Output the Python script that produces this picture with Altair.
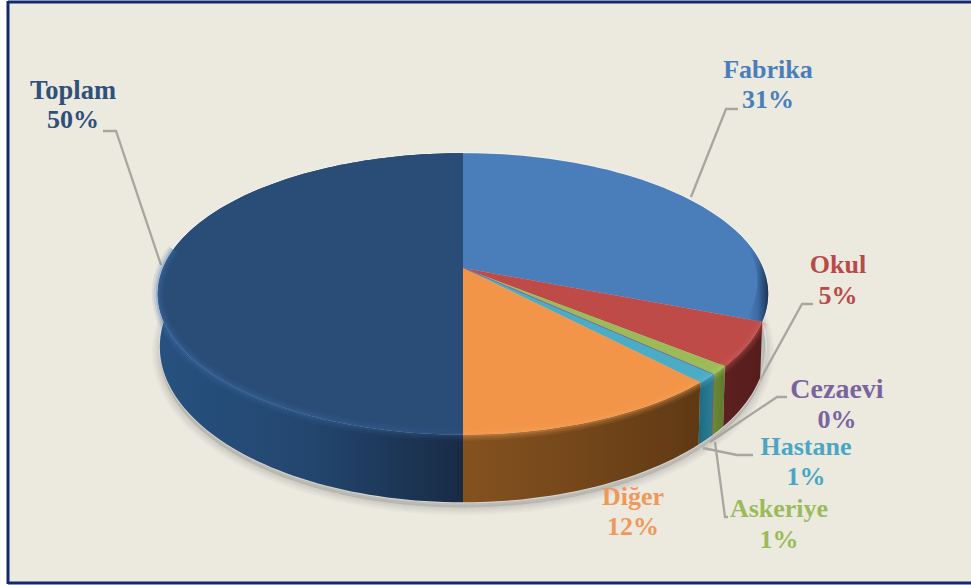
import math
import altair as alt
import pandas as pd

# Share of each category, clockwise from twelve o'clock
categories = ["Fabrika", "Okul", "Askeriye", "Cezaevi", "Hastane", "Diğer", "Toplam"]
shares = [31, 5, 1, 0, 1, 12, 50]

top_colors = ["#4A7EBB", "#BE4B48", "#9BBB59", "#8064A2", "#4BACC6", "#F39548", "#2A4D78"]
rim_colors = ["#5E92CF", "#CF5F5B", "#AECB6C", "#8064A2", "#5FBCD6", "#F8A35C", "#3F6EA8"]
wall_stops = [
    None,
    ["#5E2020", "#561C1C"],
    ["#6E8A36", "#5F7A2E"],
    ["#6C5490", "#6C5490"],
    ["#1F6A80", "#2B8098"],
    ["#84521F", "#74461A", "#5F3914"],
    ["#27517F", "#23466F", "#182B45"],
]
text_colors = ["#4A7EBB", "#B94A48", "#9BBB59", "#7A64A0", "#4BA6C4", "#F0985A", "#2F5078"]

# Label placement and the elbowed leader running to each slice
label_xy = {
    "Fabrika": (768, 70, 100), "Okul": (838, 265, 296), "Askeriye": (779, 509, 540),
    "Cezaevi": (837, 390, 420), "Hastane": (806, 447, 477), "Diğer": (633, 497, 527),
    "Toplam": (73, 91, 120),
}
name_sizes = {"Cezaevi": 28, "Toplam": 26.5}
leaders = {
    "Fabrika": [(738, 109), (726, 109), (691, 197)],
    "Okul": [(813, 304), (802, 304), (760, 380)],
    "Cezaevi": [(787, 397), (777, 397), (710, 442)],
    "Hastane": [(753, 455), (737, 455), (703, 448)],
    "Askeriye": [(728, 517), (725, 517), (715, 442)],
    "Toplam": [(103, 131), (116, 131), (161, 265)],
}

W, H = 971, 585
CREAM, NAVY = "#ECE9DF", "#14286E"
TILT = 0.184
CX = 463
TOP_DISC = dict(A=300, B=136, y0=268)
BASE_DISC = dict(A=298, B=150.4, y0=318)


def project(t_deg, disc):
    """Place an angle on a disc seen in perspective."""
    t = math.radians(t_deg)
    w = 1 + TILT * math.cos(t)
    return CX + disc["A"] * math.sin(t) / w, disc["y0"] - disc["B"] * math.cos(t) / w


def arc(t0, t1, disc, step=1.5):
    n = max(2, int(abs(t1 - t0) / step) + 1)
    return [project(t0 + (t1 - t0) * i / (n - 1), disc) for i in range(n)]


X = alt.X("x:Q", scale=alt.Scale(domain=[0, W], nice=False, zero=False), axis=None)
Y = alt.Y("y:Q", scale=alt.Scale(domain=[H, 0], nice=False, zero=False), axis=None)


def outline(points, **mark):
    frame = pd.DataFrame(points, columns=["x", "y"])
    frame["i"] = range(len(frame))
    return alt.Chart(frame).mark_line(**mark).encode(x=X, y=Y, order="i:Q")


def band(colors, x1=0, x2=1):
    stops = [alt.GradientStop(offset=i / (len(colors) - 1), color=c) for i, c in enumerate(colors)]
    return alt.Gradient(gradient="linear", stops=stops, x1=x1, x2=x2, y1=0, y2=0)


layers = []

# Panel background with its navy edges
panel = pd.DataFrame({"x": [8], "x2": [W], "y": [2], "y2": [583]})
layers.append(alt.Chart(panel).mark_rect(fill=CREAM).encode(x=X, x2="x2:Q", y=Y, y2="y2:Q"))
for pts in [[(8, 1), (8, 584)], [(8, 2), (W, 2)], [(8, 583), (W, 583)]]:
    layers.append(outline(pts, stroke=NAVY, strokeWidth=3))

# Soft cast shadow under the disc
for grow in [16, 13, 10, 8, 6, 4, 2]:
    frame_pts = [(x, y + 5) for x, y in arc(0, 360, BASE_DISC, step=3)]
    layers.append(outline(frame_pts, fill="#6F6C64", fillOpacity=0.035, stroke="#6F6C64",
                          strokeOpacity=0.035, strokeWidth=grow))

# Leader lines
for name, pts in leaders.items():
    layers.append(outline(pts, stroke="#A8A6A0", strokeWidth=2.3))

# Pale halo around the disc edge
for disc in (TOP_DISC, BASE_DISC):
    layers.append(outline(arc(0, 360, disc, step=3), stroke="#FFFFFF", strokeWidth=2,
                          strokeOpacity=0.35))

# Slice boundaries in degrees
edges = [0.0]
for s in shares:
    edges.append(edges[-1] + s * 3.6)
spans = list(zip(edges[:-1], edges[1:]))

# Side walls, back to front so nearer slices overlap
for i in [6, 1, 2, 3, 4, 5]:
    t0, t1 = spans[i]
    if t1 == t0:
        seam = [project(t0, TOP_DISC), project(t0, BASE_DISC)]
        layers.append(outline(seam, stroke=wall_stops[i][0], strokeWidth=1.5))
        continue
    pts = arc(t0, t1, TOP_DISC) + arc(t1, t0, BASE_DISC)
    layers.append(outline(pts, fill=band(wall_stops[i]), stroke=None))

# Top face
for i, (t0, t1) in enumerate(spans):
    if t1 == t0:
        seam = [(CX, TOP_DISC["y0"]), project(t0, TOP_DISC)]
        layers.append(outline(seam, stroke=top_colors[i], strokeWidth=1.5))
        continue
    pts = [(CX, TOP_DISC["y0"])] + arc(t0, t1, TOP_DISC)
    layers.append(outline(pts, fill=top_colors[i], stroke=None))

# Dark roll-off on the far right of the first slice, tapering towards the back
roll_end = spans[0][1]
outer = arc(74, roll_end, TOP_DISC)
inner = []
apex = (CX, TOP_DISC["y0"])
for k, (x, y) in enumerate(outer):
    f = 1 - 0.055 * k / (len(outer) - 1)
    inner.append((apex[0] + (x - apex[0]) * f, apex[1] + (y - apex[1]) * f))
layers.append(outline(outer + inner[::-1],
                      fill=band(["#4A7EBB", "#4A7EBB", "#3C6AA2", "#1C3557"]), stroke=None))

# Bevel along the near rim
for i, (t0, t1) in enumerate(spans):
    if t1 == t0 or categories[i] == "Fabrika":
        continue
    if categories[i] == "Toplam":
        t1 = 278
    for width, alpha in [(12, 0.10), (8, 0.14), (4, 0.24)]:
        if categories[i] == "Toplam":
            stroke = band(["#3F6EA8", "#3A659B", "#2E5585"])
        else:
            stroke = rim_colors[i]
        layers.append(outline(arc(t0, t1, TOP_DISC), stroke=stroke, strokeWidth=width,
                              strokeOpacity=alpha))

# Category name and percentage for each slice
rows = []
for name, share, color in zip(categories, shares, text_colors):
    cx, y_name, y_pct = label_xy[name]
    rows.append({"x": cx, "y": y_name, "t": name, "c": color, "s": name_sizes.get(name, 26)})
    rows.append({"x": cx, "y": y_pct, "t": f"{share}%", "c": color, "s": 26})
labels = alt.Chart(pd.DataFrame(rows)).mark_text(
    font="Liberation Serif", fontWeight="bold", align="center", baseline="middle"
).encode(x=X, y=Y, text="t:N", color=alt.Color("c:N", scale=None),
         size=alt.Size("s:Q", scale=None))
layers.append(labels)

chart = (
    alt.layer(*layers)
    .properties(width=W, height=H, padding=0, autosize=alt.AutoSizeParams(type="none"),
                background="#FFFFFF")
    .configure_view(stroke=None)
)
chart.save("out.html", embed_options={"renderer": "svg", "actions": False})
